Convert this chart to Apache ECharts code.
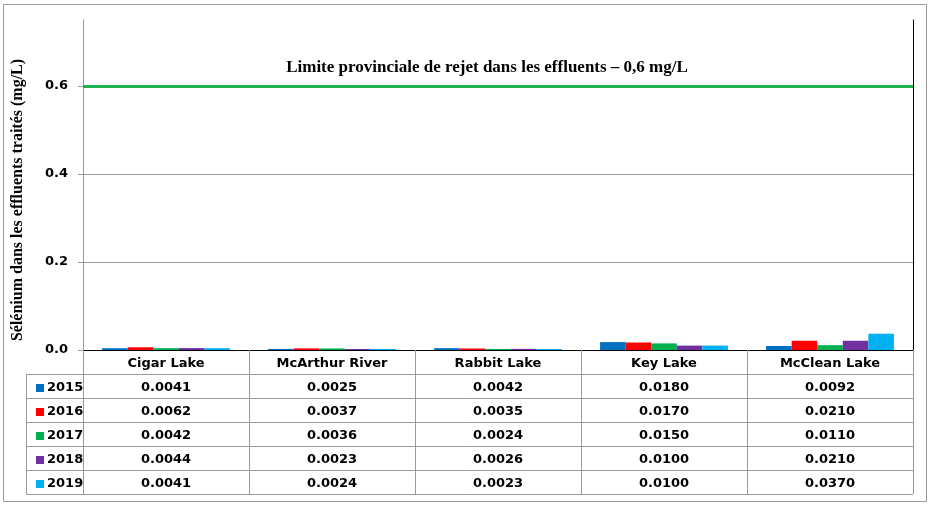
<!DOCTYPE html>
<html>
<head>
<meta charset="utf-8">
<script src="https://cdn.jsdelivr.net/npm/echarts@6/dist/echarts.min.js"></script>
<style>
  html, body { margin: 0; padding: 0; background: #fff; }
  #chart { width: 931px; height: 505px; }
</style>
</head>
<body>
<div id="chart"></div>
<script>
// données
const categories = ['Cigar Lake', 'McArthur River', 'Rabbit Lake', 'Key Lake', 'McClean Lake']
const years = ['2015', '2016', '2017', '2018', '2019']
const v2015 = [0.0041, 0.0025, 0.0042, 0.0180, 0.0092]
const v2016 = [0.0062, 0.0037, 0.0035, 0.0170, 0.0210]
const v2017 = [0.0042, 0.0036, 0.0024, 0.0150, 0.0110]
const v2018 = [0.0044, 0.0023, 0.0026, 0.0100, 0.0210]
const v2019 = [0.0041, 0.0024, 0.0023, 0.0100, 0.0370]
const yTicks = [0, 0.2, 0.4, 0.6]
const limitValue = 0.6
const limitLabel = 'Limite provinciale de rejet dans les effluents \u2013 0,6 mg/L'
const yTitle = 'Sélénium dans les effluents traités (mg/L)'

const seriesValues = [v2015, v2016, v2017, v2018, v2019]
const colors = ['#0070C0', '#FF0000', '#00B050', '#7030A0', '#00B0F0']

const W = 931, H = 505
const gridLeft = 83, gridRight = 18, gridTop = 20, gridBottom = 155
const rowH = 24
const tableLeft = 26
const axisY = H - gridBottom
const tableRight = W - gridRight
const gray = '#9a9a9a'
const tableFont = 'DejaVu Sans'

const chart = echarts.init(document.getElementById('chart'))

// lignes du tableau
const tableLines = []
for (let r = 1; r <= years.length + 1; r++) {
  const y = axisY + r * rowH + 0.5
  tableLines.push({
    type: 'line',
    shape: { x1: tableLeft, y1: y, x2: tableRight, y2: y },
    style: { stroke: gray, lineWidth: 1 },
    silent: true
  })
}
tableLines.push({
  type: 'line',
  shape: { x1: tableLeft + 0.5, y1: axisY + rowH, x2: tableLeft + 0.5, y2: axisY + (years.length + 1) * rowH },
  style: { stroke: gray, lineWidth: 1 },
  silent: true
})

const series = years.map((y, i) => {
  const s = {
    name: y,
    type: 'bar',
    data: seriesValues[i],
    itemStyle: { color: colors[i] },
    barGap: '0%',
    barCategoryGap: '23%'
  }
  if (i === 0) {
    s.markLine = {
      silent: true,
      symbol: 'none',
      lineStyle: { color: '#1FB04F', width: 3, type: 'solid', opacity: 1 },
      label: {
        show: true,
        position: 'insideMiddleTop',
        distance: 10,
        formatter: limitLabel,
        fontFamily: 'Liberation Serif',
        fontWeight: 'bold',
        fontSize: 17,
        color: '#000',
        padding: [0, 22, 0, 0]
      },
      data: [{ yAxis: limitValue }]
    }
  }
  return s
})

const option = {
  animation: false,
  color: colors,
  grid: { left: gridLeft, right: gridRight, top: gridTop, bottom: gridBottom, containLabel: false },
  legend: {
    data: years,
    orient: 'vertical',
    left: tableLeft + 5,
    top: axisY + rowH - 3,
    itemGap: 0,
    itemWidth: 8,
    itemHeight: 8,
    icon: 'rect',
    selectedMode: false,
    textStyle: { fontFamily: tableFont, fontWeight: 'bold', fontSize: 13, color: '#000', lineHeight: rowH, padding: [0, 0, 0, -2] }
  },
  xAxis: [
    {
      type: 'category',
      data: categories,
      position: 'bottom',
      axisLine: { show: true, lineStyle: { color: gray } },
      axisTick: { show: true, alignWithLabel: false, interval: 0, length: rowH * (years.length + 1), lineStyle: { color: gray } },
      axisLabel: {
        interval: 0,
        margin: 2,
        fontFamily: tableFont,
        fontWeight: 'bold',
        fontSize: 13,
        color: '#000',
        lineHeight: rowH,
        formatter: (value, idx) => [value].concat(seriesValues.map(a => a[idx].toFixed(4))).join('\n')
      },
      splitLine: { show: false }
    },
    {
      type: 'category',
      data: categories,
      position: 'top',
      axisLine: { show: true, lineStyle: { color: '#000' } },
      axisTick: { show: false },
      axisLabel: { show: false }
    }
  ],
  yAxis: [
    {
      type: 'value',
      min: 0,
      max: 0.75,
      interval: 0.2,
      name: yTitle,
      nameLocation: 'middle',
      nameRotate: 90,
      nameGap: 57,
      nameTextStyle: { fontFamily: 'Liberation Serif', fontWeight: 'bold', fontSize: 16, color: '#000', padding: [0, 30, 0, 0] },
      axisLine: { show: true, lineStyle: { color: gray } },
      axisTick: { show: true, length: 5, customValues: yTicks, lineStyle: { color: gray } },
      axisLabel: {
        customValues: yTicks,
        margin: 15,
        fontFamily: 'DejaVu Sans',
        fontWeight: 'bold',
        fontSize: 13,
        color: '#000',
        formatter: v => v.toFixed(1)
      },
      splitLine: { show: true, lineStyle: { color: gray } }
    },
    {
      type: 'value',
      min: 0,
      max: 0.75,
      position: 'right',
      axisLine: { show: true, lineStyle: { color: '#000' } },
      axisTick: { show: false },
      axisLabel: { show: false },
      splitLine: { show: false }
    }
  ],
  graphic: [
    {
      type: 'rect',
      shape: { x: 3.5, y: 4.5, width: 923, height: 497 },
      style: { fill: 'transparent', stroke: gray, lineWidth: 1 },
      silent: true
    }
  ].concat(tableLines),
  series: series
}

chart.setOption(option)
</script>
</body>
</html>
